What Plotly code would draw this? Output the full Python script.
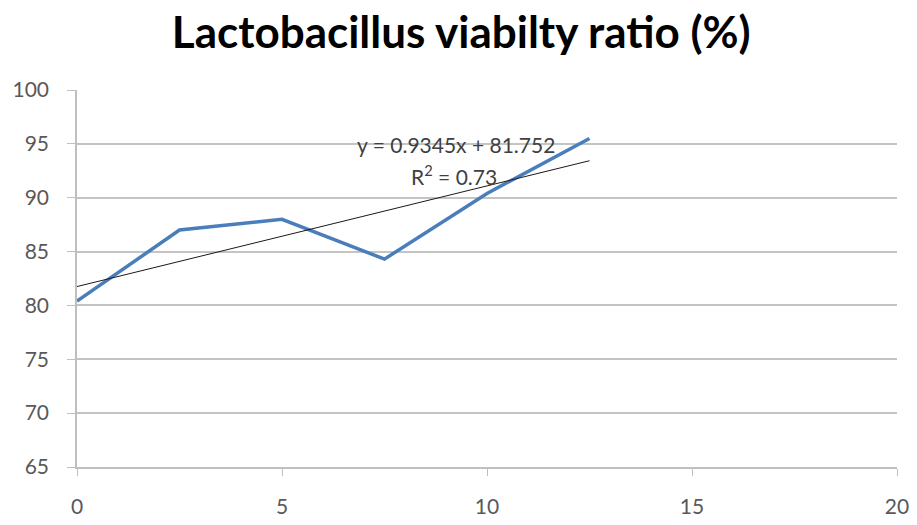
import plotly.graph_objects as go

# Storage time and viability readings
days = [0, 2.5, 5, 7.5, 10, 12.5]
viability = [80.4, 87.0, 88.0, 84.3, 90.4, 95.5]

# Linear trendline coefficients as reported
slope = 0.9345
intercept = 81.752
r_squared = 0.73

x_ticks = [0, 5, 10, 15, 20]
y_ticks = [65, 70, 75, 80, 85, 90, 95, 100]

trend_x = [days[0], days[-1]]
trend_y = [slope * x + intercept for x in trend_x]

fig = go.Figure()
fig.add_trace(go.Scatter(
    x=days, y=viability, mode="lines",
    line=dict(color="#4a7ebb", width=3.5),
    showlegend=False,
))
fig.add_trace(go.Scatter(
    x=trend_x, y=trend_y, mode="lines",
    line=dict(color="#1a1a1a", width=1),
    showlegend=False,
))

label_font = dict(family="Lato, sans-serif", size=21, color="#404040")
fig.add_annotation(
    x=9.25, y=94.95, xref="x", yref="y",
    text=f"y = {slope}x + {intercept}",
    showarrow=False, font=label_font,
)
fig.add_annotation(
    x=9.2, y=92.1, xref="x", yref="y",
    text=f"R<sup>2</sup> = {r_squared}",
    showarrow=False, font=label_font,
)

fig.update_layout(
    width=917, height=525,
    margin=dict(l=77, r=20, t=90, b=58),
    paper_bgcolor="white", plot_bgcolor="white",
    title=dict(
        text="<b>Lactobacillus viabilty ratio (%)</b>",
        x=0.503, xanchor="center", y=0.937, yanchor="middle",
        font=dict(family="Lato, sans-serif", size=44, color="#000000"),
    ),
    font=dict(family="Lato, sans-serif", size=21, color="#595959"),
)
fig.update_xaxes(
    range=[0, 20], tickvals=x_ticks, showgrid=False,
    showline=True, linecolor="#bfbfbf", linewidth=1.5,
    ticks="outside", ticklen=7, tickcolor="#bfbfbf",
    zeroline=False, ticklabelstandoff=13, automargin=False,
)
fig.update_yaxes(
    range=[65, 100], tickvals=y_ticks, showgrid=True,
    gridcolor="#c4c4c4", gridwidth=1.5,
    showline=True, linecolor="#bfbfbf", linewidth=1.5,
    ticks="outside", ticklen=8, tickcolor="#bfbfbf",
    zeroline=False, ticklabelstandoff=14, automargin=False,
)

fig.write_html("out.html")
